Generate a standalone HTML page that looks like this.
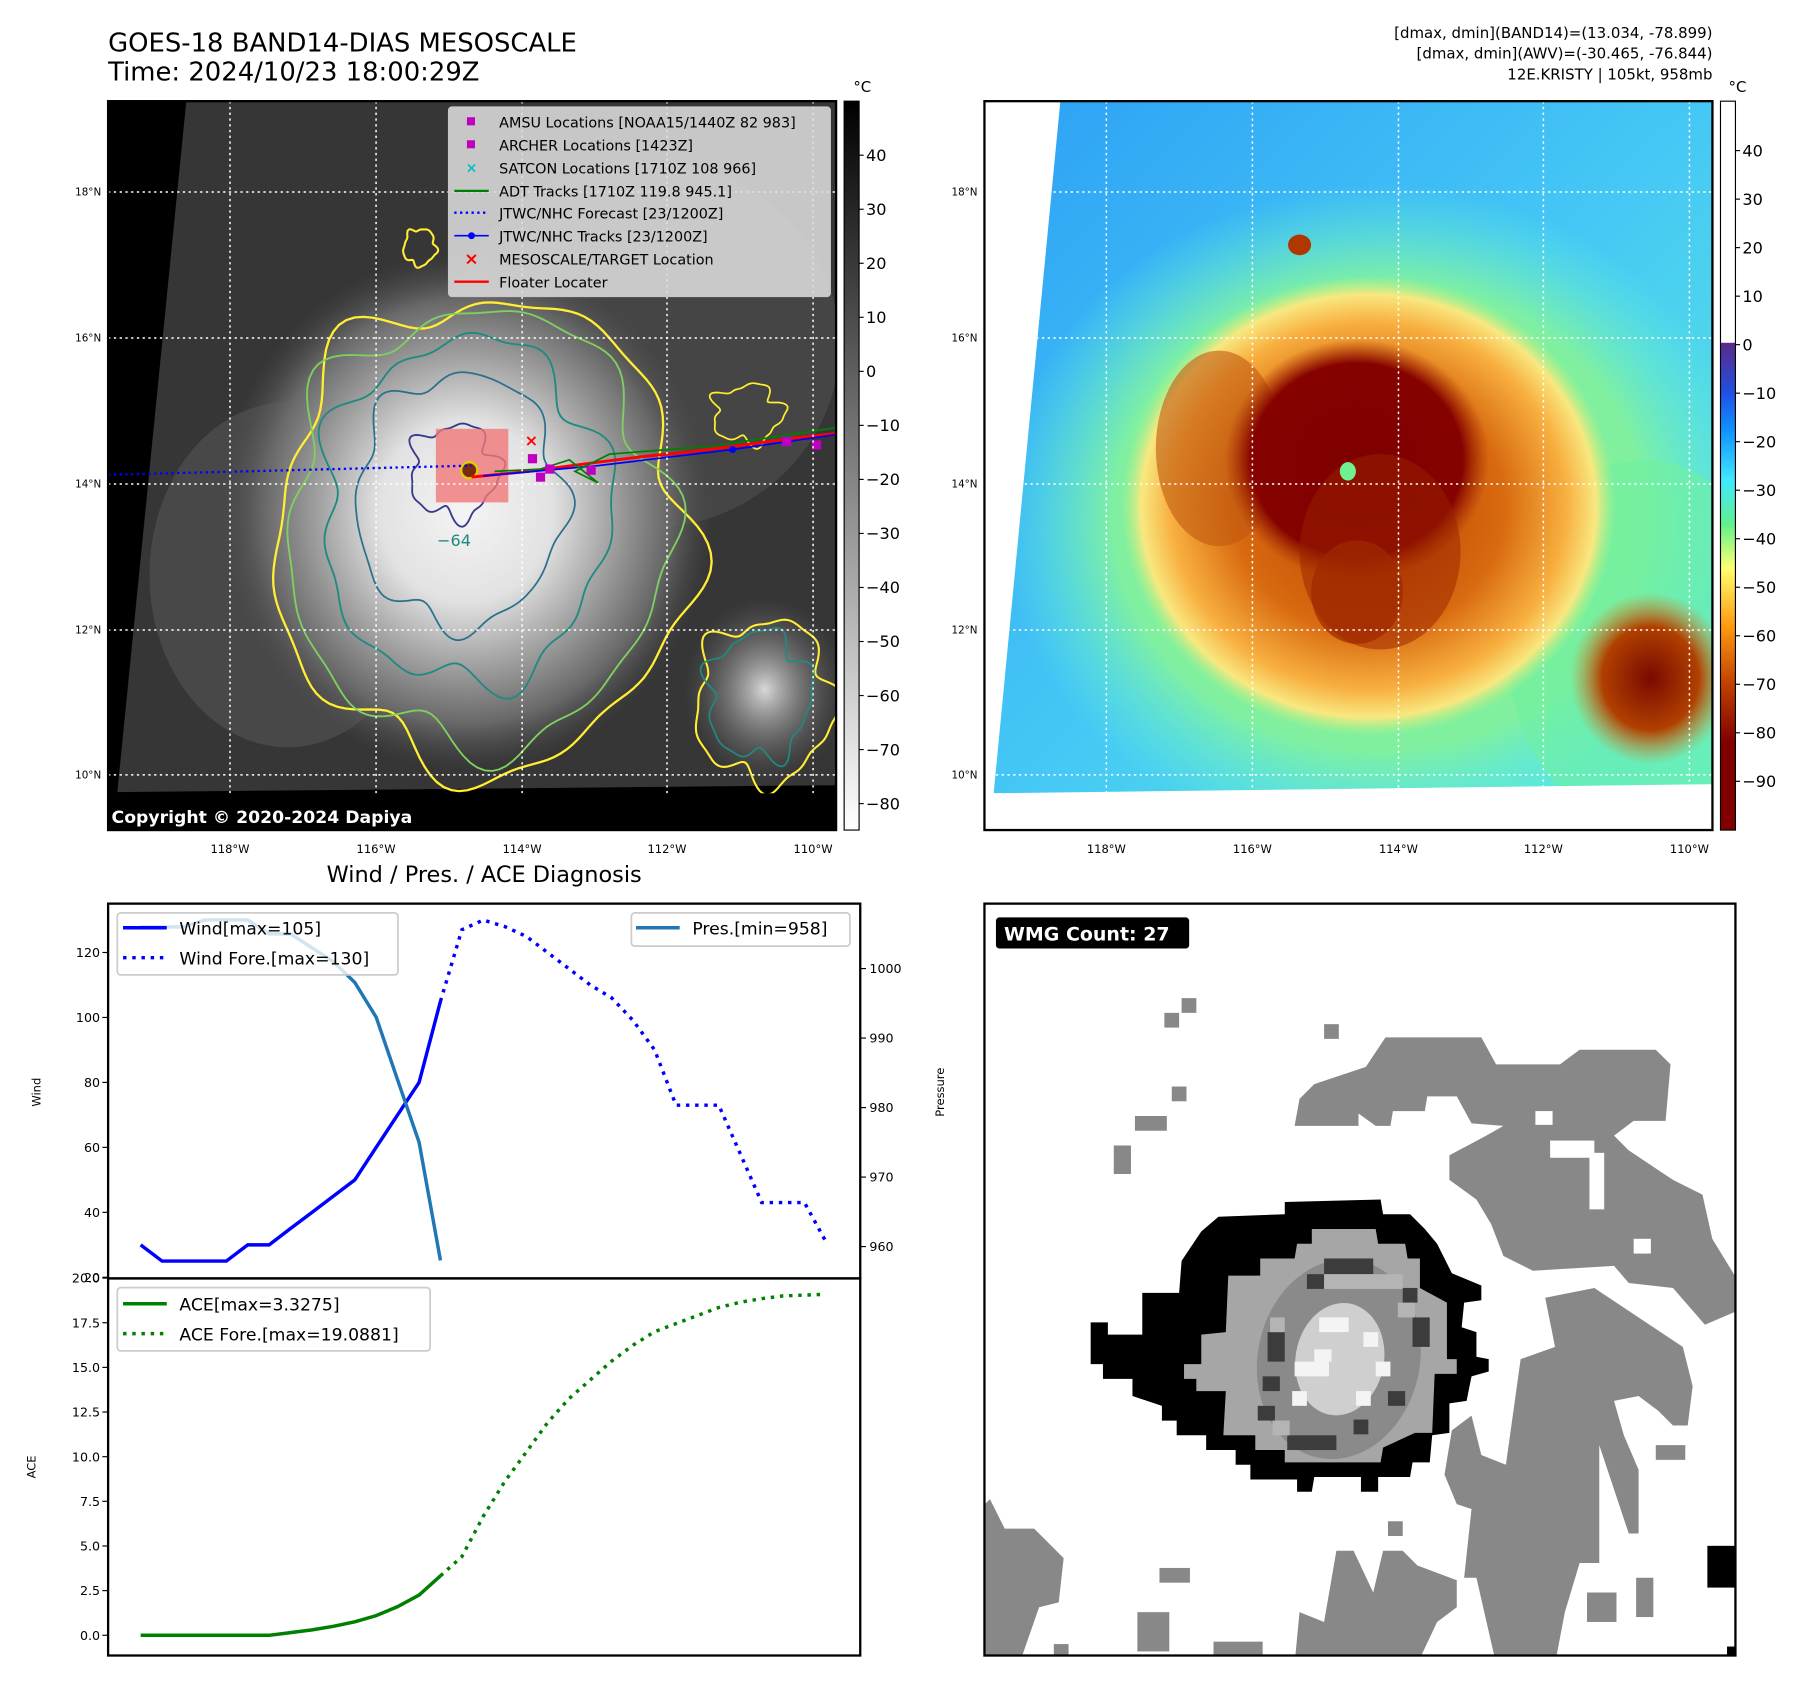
<!DOCTYPE html>
<html><head><meta charset="utf-8">
<style>
html,body{margin:0;padding:0;background:#fff;}
body{width:1801px;height:1690px;overflow:hidden;}
#wrap{width:1566px;height:1470px;transform:scale(1.15006,1.14966);transform-origin:0 0;position:relative;}
svg text{font-family:"DejaVu Sans","Liberation Sans",sans-serif;}
</style></head>
<body>
<div id="wrap">
<svg id="fig" width="1566" height="1470" viewBox="0 0 1566 1470" xmlns="http://www.w3.org/2000/svg">
<defs>
  <clipPath id="clipL"><rect x="94" y="88" width="633" height="634"/></clipPath>
  <clipPath id="clipR"><rect x="856" y="88" width="633" height="634"/></clipPath>
  <clipPath id="clipW"><rect x="856" y="786" width="653" height="654"/></clipPath>
  <radialGradient id="gStorm" cx="0.5" cy="0.5" r="0.5">
    <stop offset="0" stop-color="#f4f4f4"/><stop offset="0.35" stop-color="#e2e2e2"/>
    <stop offset="0.6" stop-color="#a0a0a0"/><stop offset="0.82" stop-color="#686868"/><stop offset="1" stop-color="#4a4a4a" stop-opacity="0"/>
  </radialGradient>
  <radialGradient id="gE" cx="0.5" cy="0.5" r="0.5">
    <stop offset="0" stop-color="#d8d8d8"/><stop offset="1" stop-color="#6a6a6a" stop-opacity="0"/>
  </radialGradient>
  <linearGradient id="cbGray" x1="0" y1="0" x2="0" y2="1">
    <stop offset="0" stop-color="#000"/><stop offset="1" stop-color="#fff"/>
  </linearGradient>
  <linearGradient id="cbColor" x1="0" y1="0" x2="0" y2="1">
    <stop offset="0" stop-color="#ffffff"/><stop offset="0.331" stop-color="#ffffff"/>
    <stop offset="0.332" stop-color="#5b2a8a"/><stop offset="0.40" stop-color="#2050e0"/>
    <stop offset="0.45" stop-color="#1090ff"/><stop offset="0.52" stop-color="#40e8ff"/>
    <stop offset="0.58" stop-color="#60f090"/><stop offset="0.64" stop-color="#ffff70"/>
    <stop offset="0.72" stop-color="#ff9a10"/><stop offset="0.80" stop-color="#c04000"/>
    <stop offset="0.88" stop-color="#800000"/><stop offset="1" stop-color="#800000"/>
  </linearGradient>
  <linearGradient id="gSky" x1="0" y1="0" x2="1" y2="1">
    <stop offset="0" stop-color="#2da0f5"/><stop offset="0.5" stop-color="#45c8f5"/><stop offset="1" stop-color="#60f0d8"/>
  </linearGradient>
  <radialGradient id="gOuter" cx="0.5" cy="0.5" r="0.5">
    <stop offset="0" stop-color="#90f080"/><stop offset="0.7" stop-color="#80f0a0"/><stop offset="1" stop-color="#60f0e0" stop-opacity="0"/>
  </radialGradient>
  <radialGradient id="gOrange" cx="0.5" cy="0.5" r="0.5">
    <stop offset="0" stop-color="#b84000"/><stop offset="0.55" stop-color="#d86a10"/>
    <stop offset="0.8" stop-color="#f8b040"/><stop offset="0.92" stop-color="#f8e880"/><stop offset="1" stop-color="#c0f080" stop-opacity="0"/>
  </radialGradient>
  <radialGradient id="gCore" cx="0.5" cy="0.5" r="0.5">
    <stop offset="0" stop-color="#800000"/><stop offset="0.8" stop-color="#850200"/><stop offset="1" stop-color="#a02800" stop-opacity="0"/>
  </radialGradient>
  <radialGradient id="gBR" cx="0.5" cy="0.5" r="0.5">
    <stop offset="0" stop-color="#7a0a00"/><stop offset="0.6" stop-color="#b04000"/><stop offset="1" stop-color="#e08020" stop-opacity="0"/>
  </radialGradient>
</defs>

<!-- ===== Top-left panel ===== -->
<text x="94" y="45" font-size="22.5">GOES-18 BAND14-DIAS MESOSCALE</text>
<text x="94" y="70" font-size="22.5">Time: 2024/10/23 18:00:29Z</text>
<g clip-path="url(#clipL)">
  <rect x="94" y="88" width="633" height="634" fill="#000"/>
  <polygon points="162,88 727,88 727,683 102,689" fill="#363636"/>
  <ellipse cx="560" cy="300" rx="170" ry="160" fill="#505050" opacity="0.6"/>
  <ellipse cx="250" cy="500" rx="120" ry="150" fill="#555" opacity="0.6"/>
  <ellipse cx="665" cy="600" rx="70" ry="80" fill="url(#gE)"/>
  <ellipse cx="405" cy="445" rx="215" ry="225" fill="url(#gStorm)"/>
  <g id="contours"></g>
  <rect x="379" y="373" width="63" height="64" fill="#f07878" opacity="0.8"/>
  <ellipse cx="408" cy="409" rx="7" ry="7" fill="#7a2a10" stroke="#ddd000" stroke-width="2"/>
  <line x1="94" y1="413" x2="410" y2="405" stroke="#0000ff" stroke-width="2" stroke-dasharray="2 3"/>
  <polyline points="410,415 460,410 520,402 560,397 600,393 640,388 690,381 727,377" fill="none" stroke="#ff0000" stroke-width="2.5"/>
  <polyline points="420,414 520,405 637,391 727,378" fill="none" stroke="#0000ff" stroke-width="1.5"/>
  <circle cx="637" cy="391" r="3" fill="#0000ff"/>
  <polyline points="430,410 470,408 495,400 520,420 500,410 530,395 620,388 640,385 727,372" fill="none" stroke="#008000" stroke-width="1.5"/>
  <g fill="#c000c0">
    <rect x="459" y="395" width="8" height="8"/><rect x="474" y="404" width="8" height="8"/>
    <rect x="466" y="411" width="8" height="8"/><rect x="510" y="405" width="8" height="8"/>
    <rect x="680" y="380" width="8" height="8"/><rect x="706" y="383" width="8" height="8"/>
  </g>
  <text x="462" y="388" font-size="14" fill="#ff0000" text-anchor="middle" font-weight="bold">×</text>
  <g id="gridL" stroke="#fff" stroke-width="1.3" stroke-dasharray="2 3"></g>
  <rect x="94" y="690" width="633" height="32" fill="#000"/>
  <text x="97" y="716" font-size="15" font-weight="bold" fill="#fff">Copyright © 2020-2024 Dapiya</text>
</g>
<rect x="94" y="88" width="633" height="634" fill="none" stroke="#000" stroke-width="2"/>
<!-- legend -->
<g>
  <rect x="390" y="93" width="332" height="165" rx="3" fill="#dcdcdc" fill-opacity="0.88" stroke="#c8c8c8"/>
  <g font-size="12.5" fill="#000">
    <rect x="406" y="102" width="7" height="7" fill="#c000c0"/><text x="434" y="111">AMSU Locations [NOAA15/1440Z 82 983]</text>
    <rect x="406" y="122" width="7" height="7" fill="#c000c0"/><text x="434" y="131">ARCHER Locations [1423Z]</text>
    <text x="410" y="150" text-anchor="middle" fill="#00c0c0" font-weight="bold" font-size="12">×</text><text x="434" y="151">SATCON Locations [1710Z 108 966]</text>
    <line x1="395" y1="166" x2="425" y2="166" stroke="#008000" stroke-width="2"/><text x="434" y="171">ADT Tracks [1710Z 119.8 945.1]</text>
    <line x1="395" y1="185" x2="425" y2="185" stroke="#0000ff" stroke-width="2" stroke-dasharray="2 3"/><text x="434" y="190">JTWC/NHC Forecast [23/1200Z]</text>
    <line x1="395" y1="205" x2="425" y2="205" stroke="#0000ff" stroke-width="1.5"/><circle cx="410" cy="205" r="3" fill="#0000ff"/><text x="434" y="210">JTWC/NHC Tracks [23/1200Z]</text>
    <text x="410" y="230" text-anchor="middle" fill="#ff0000" font-weight="bold" font-size="15">×</text><text x="434" y="230">MESOSCALE/TARGET Location</text>
    <line x1="395" y1="245" x2="425" y2="245" stroke="#ff0000" stroke-width="2"/><text x="434" y="250">Floater Locater</text>
  </g>
</g>
<!-- colorbar left -->
<rect x="734" y="88" width="13" height="634" fill="url(#cbGray)" stroke="#000" stroke-width="1"/>
<text x="742" y="80" font-size="13">°C</text>
<g id="cbLabelsL" font-size="14"></g>
<g id="axLabelsL" font-size="10"></g>

<!-- ===== Top-right panel ===== -->
<g font-size="13" text-anchor="end">
  <text x="1489" y="33">[dmax, dmin](BAND14)=(13.034, -78.899)</text>
  <text x="1489" y="51">[dmax, dmin](AWV)=(-30.465, -76.844)</text>
  <text x="1489" y="69">12E.KRISTY | 105kt, 958mb</text>
</g>
<g clip-path="url(#clipR)">
  <rect x="856" y="88" width="633" height="634" fill="#fff"/>
  <clipPath id="dataR"><polygon points="922,88 1489,88 1489,682 864,690"/></clipPath>
  <g clip-path="url(#dataR)">
    <rect x="856" y="88" width="633" height="634" fill="url(#gSky)"/>
    <ellipse cx="1200" cy="450" rx="330" ry="290" fill="url(#gOuter)"/>
    <ellipse cx="1430" cy="560" rx="120" ry="160" fill="#70f0a0" opacity="0.6"/>
    <ellipse cx="1190" cy="440" rx="215" ry="200" fill="url(#gOrange)"/>
    <ellipse cx="1060" cy="390" rx="55" ry="85" fill="#c05810" opacity="0.6"/>
    <ellipse cx="1180" cy="400" rx="115" ry="105" fill="url(#gCore)"/>
    <ellipse cx="1200" cy="480" rx="70" ry="85" fill="#9a2200" opacity="0.5"/>
    <ellipse cx="1180" cy="515" rx="40" ry="45" fill="#a02800" opacity="0.7"/>
    <ellipse cx="1435" cy="590" rx="70" ry="75" fill="url(#gBR)"/>
    <ellipse cx="1130" cy="213" rx="10" ry="9" fill="#b03800"/>
    <ellipse cx="1172" cy="410" rx="7" ry="8" fill="#70f090"/>
    <g id="gridR" stroke="#fff" stroke-width="1.3" stroke-dasharray="2 3"></g>
  </g>
</g>
<rect x="856" y="88" width="633" height="634" fill="none" stroke="#000" stroke-width="2"/>
<rect x="1496" y="88" width="13" height="634" fill="url(#cbColor)" stroke="#000" stroke-width="1"/>
<text x="1503" y="80" font-size="13">°C</text>
<g id="cbLabelsR" font-size="14"></g>
<g id="axLabelsR" font-size="10"></g>

<!-- ===== Bottom-left chart ===== -->
<text x="421" y="767" font-size="19.5" text-anchor="middle">Wind / Pres. / ACE Diagnosis</text>
<g id="chart"></g>
<rect x="94" y="786" width="654" height="326" fill="none" stroke="#000" stroke-width="2"/>
<rect x="94" y="1112" width="654" height="328" fill="none" stroke="#000" stroke-width="2"/>
<text transform="translate(35,950) rotate(-90)" font-size="10" text-anchor="middle">Wind</text>
<text transform="translate(821,950) rotate(-90)" font-size="10" text-anchor="middle">Pressure</text>
<text transform="translate(31,1276) rotate(-90)" font-size="10" text-anchor="middle">ACE</text>
<g>
  <rect x="102" y="794" width="244" height="54" rx="3" fill="#fff" fill-opacity="0.8" stroke="#ccc" stroke-width="1.5"/>
  <line x1="107" y1="807" x2="145" y2="807" stroke="#0000ff" stroke-width="3"/>
  <text x="156" y="813" font-size="15">Wind[max=105]</text>
  <line x1="107" y1="833" x2="145" y2="833" stroke="#0000ff" stroke-width="3" stroke-dasharray="3 5"/>
  <text x="156" y="839" font-size="15">Wind Fore.[max=130]</text>
</g>
<g>
  <rect x="549" y="794" width="190" height="29" rx="3" fill="#fff" fill-opacity="0.8" stroke="#ccc" stroke-width="1.5"/>
  <line x1="553" y1="807" x2="591" y2="807" stroke="#1f77b4" stroke-width="3"/>
  <text x="602" y="813" font-size="15">Pres.[min=958]</text>
</g>
<g>
  <rect x="102" y="1120" width="272" height="55" rx="3" fill="#fff" fill-opacity="0.8" stroke="#ccc" stroke-width="1.5"/>
  <line x1="107" y1="1134" x2="145" y2="1134" stroke="#008000" stroke-width="3"/>
  <text x="156" y="1140" font-size="15">ACE[max=3.3275]</text>
  <line x1="107" y1="1160" x2="145" y2="1160" stroke="#008000" stroke-width="3" stroke-dasharray="3 5"/>
  <text x="156" y="1166" font-size="15">ACE Fore.[max=19.0881]</text>
</g>

<!-- ===== Bottom-right WMG ===== -->
<g clip-path="url(#clipW)">
  <rect x="856" y="786" width="653" height="654" fill="#fff"/>
  <svg x="856.5" y="787" width="661" height="661" viewBox="0 0 1547 1547">
    <g fill="#888">
      <polygon points="630,450 640,395 670,365 775,330 815,270 1010,270 1040,325 1170,325 1210,295 1365,295 1395,325 1385,440 1320,440 1280,470 1310,500 1400,560 1460,590 1480,680 1535,770 1535,825 1465,855 1400,780 1310,770 1280,735 1115,745 1055,715 1030,650 1000,600 945,560 945,510 1020,470 1055,450 990,445 960,390 900,390 895,420 830,420 825,450 795,450 760,425 760,450"/>
      <polygon points="1140,800 1240,780 1360,860 1420,900 1440,980 1430,1060 1400,1060 1370,1030 1330,1000 1280,1010 1300,1080 1330,1150 1330,1280 1310,1280 1250,1100 1250,1340 1210,1340 1180,1440 1160,1545 1040,1545 1000,1370 975,1370 990,1230 960,1220 935,1160 950,1070 990,1040 1010,1120 1060,1140 1090,925 1160,900"/>
      <polygon points="630,1545 640,1440 690,1460 715,1315 750,1315 790,1400 810,1315 850,1315 880,1345 960,1375 960,1430 920,1460 880,1545"/>
      <polygon points="0,1220 10,1210 40,1270 100,1270 160,1330 150,1420 110,1430 70,1545 0,1545"/>
      <rect x="365" y="220" width="30" height="30"/><rect x="400" y="190" width="30" height="30"/>
      <rect x="690" y="243" width="30" height="30"/><rect x="380" y="370" width="30" height="30"/>
      <rect x="305" y="430" width="65" height="30"/><rect x="262" y="490" width="35" height="58"/>
      <rect x="355" y="1350" width="62" height="30"/><rect x="820" y="1255" width="30" height="30"/>
      <rect x="465" y="1500" width="100" height="30"/><rect x="140" y="1505" width="30" height="30"/>
      <rect x="310" y="1440" width="65" height="80"/><rect x="1365" y="1100" width="60" height="30"/>
      <rect x="1225" y="1400" width="60" height="60"/><rect x="1325" y="1370" width="35" height="80"/>
    </g>
    <g fill="#fff"><rect x="1120" y="420" width="35" height="28"/><rect x="1150" y="480" width="90" height="35"/><rect x="1230" y="505" width="30" height="115"/><rect x="1320" y="680" width="35" height="30"/></g>
    <g fill="#000"><rect x="1470" y="1305" width="77" height="85"/><rect x="1510" y="1510" width="37" height="37"/>
      <polygon points="215,850 250,850 250,875 320,875 320,790 395,790 400,725 440,665 475,635 610,630 610,605 805,600 810,630 865,630 895,660 920,690 950,750 1010,775 1010,805 975,810 970,860 1000,870 1000,920 1025,925 1025,950 990,960 980,1010 945,1015 945,1075 910,1080 905,1135 870,1135 865,1165 800,1165 800,1195 765,1195 765,1165 670,1165 665,1195 635,1195 635,1170 540,1170 540,1140 510,1140 510,1110 450,1110 450,1080 390,1080 390,1050 360,1050 360,1020 300,1000 300,965 240,965 240,935 215,935"/></g>
    <polygon fill="#a6a6a6" points="405,935 440,935 440,875 490,870 495,755 560,755 560,720 630,720 635,690 665,690 665,660 795,660 800,690 855,690 860,720 885,720 885,780 940,810 940,925 960,925 960,955 915,955 910,1075 875,1075 810,1105 805,1135 610,1135 610,1110 550,1110 550,1080 485,1080 490,990 430,990 430,965 405,965"/>
    <ellipse cx="720" cy="925" rx="165" ry="205" transform="rotate(12 720 925)" fill="#8a8a8a"/>
    <g fill="#3c3c3c"><rect x="690" y="720" width="100" height="32"/><rect x="655" y="752" width="35" height="30"/><rect x="575" y="870" width="35" height="60"/><rect x="565" y="960" width="35" height="30"/><rect x="555" y="1020" width="35" height="30"/><rect x="615" y="1080" width="100" height="30"/><rect x="750" y="1048" width="30" height="30"/><rect x="820" y="990" width="35" height="30"/><rect x="870" y="840" width="35" height="60"/><rect x="850" y="780" width="30" height="30"/></g>
    <g fill="#b4b4b4"><rect x="690" y="752" width="160" height="30"/><rect x="580" y="840" width="30" height="30"/><rect x="840" y="810" width="35" height="30"/><rect x="585" y="1050" width="35" height="30"/></g>
    <ellipse cx="722" cy="925" rx="90" ry="115" transform="rotate(10 722 925)" fill="#cfcfcf"/>
    <g fill="#f4f4f4"><rect x="680" y="840" width="60" height="30"/><rect x="770" y="870" width="30" height="30"/><rect x="630" y="930" width="70" height="30"/><rect x="795" y="930" width="30" height="30"/><rect x="625" y="990" width="30" height="30"/><rect x="755" y="990" width="30" height="30"/><rect x="670" y="905" width="35" height="25"/></g>
  </svg>
  <rect x="866" y="798" width="168" height="27" rx="3" fill="#000"/>
  <text x="873" y="818" font-size="16.5" font-weight="bold" fill="#fff">WMG Count: 27</text>
</g>
<rect x="856" y="786" width="653" height="654" fill="none" stroke="#000" stroke-width="2"/>
</svg>
</div>

<script>
// ---------- chart data ----------
const windObs = [30,25,25,25,25,30,30,35,40,45,50,60,70,80,105];
const windFc  = [105,127,130,128,125,120,115,110,106,99,90,73,73,73,58,43,43,43,31];
const presObs = [1006,1006,1006,1007,1007,1007,1005,1005,1003,1001,998,993,984,975,958];
const aceObs  = [0,0,0,0,0,0,0,0.15,0.3,0.5,0.75,1.1,1.6,2.25,3.33];
const aceFc   = [3.33,4.4,6.66,8.6,10.25,11.9,13.25,14.3,15.35,16.25,17.0,17.45,17.9,18.35,18.65,18.85,19.0,19.05,19.09];
const windTicks = [20,40,60,80,100,120];
const presTicks = [960,970,980,990,1000];
const aceTicks  = [0,2.5,5,7.5,10,12.5,15,17.5,20];
const latTicks  = ['18°N','16°N','14°N','12°N','10°N'];
const lonTicks  = ['118°W','116°W','114°W','112°W','110°W'];
const cbLeftTicks  = [40,30,20,10,0,-10,-20,-30,-40,-50,-60,-70,-80];
const cbRightTicks = [40,30,20,10,0,-10,-20,-30,-40,-50,-60,-70,-80,-90];

const NS = 'http://www.w3.org/2000/svg';
function mk(tag, attrs, parent){const e=document.createElementNS(NS,tag);for(const k in attrs)e.setAttribute(k,attrs[k]);parent.appendChild(e);return e;}

const xIdx = i => 122.3 + i*18.62;
const yWind = v => 1054.5 - (v-40)*2.825;
const yPres = p => 1084.3 - (p-960)*6.045;
const yAce = a => 1422.4 - a*15.535;
const fmtMinus = v => String(v).replace('-', '\u2212');

const chart = document.getElementById('chart');
function line(vals, off, yf, color, dashed, name){
  const pts = vals.map((v,i)=>xIdx(i+off).toFixed(1)+','+yf(v).toFixed(1)).join(' ');
  const p = mk('polyline',{points:pts,fill:'none',stroke:color,'stroke-width':3},chart);
  if(dashed) p.setAttribute('stroke-dasharray','3 5');
  
  
}
line(windObs,0,yWind,'#0000ff',false,'wind-line');
line(windFc,14,yWind,'#0000ff',true,'wind-forecast-line');
line(presObs,0,yPres,'#1f77b4',false,'pressure-line');
line(aceObs,0,yAce,'#008000',false,'ace-line');
line(aceFc,14,yAce,'#008000',true,'ace-forecast-line');

windTicks.forEach(v=>{
  const y=yWind(v);
  mk('line',{x1:89,y1:y,x2:94,y2:y,stroke:'#000','stroke-width':1},chart);
  const t=mk('text',{x:87,y:y+4,'font-size':11,'text-anchor':'end'},chart); t.textContent=v;
  
  
});
presTicks.forEach(v=>{
  const y=yPres(v);
  mk('line',{x1:748,y1:y,x2:753,y2:y,stroke:'#000','stroke-width':1},chart);
  const t=mk('text',{x:756,y:y+4,'font-size':11},chart); t.textContent=v;
  
  
});
aceTicks.forEach(v=>{
  const y=yAce(v);
  mk('line',{x1:89,y1:y,x2:94,y2:y,stroke:'#000','stroke-width':1},chart);
  const t=mk('text',{x:87,y:y+4,'font-size':11,'text-anchor':'end'},chart); t.textContent=v.toFixed(1);
  
  
});

// ---------- map axes ----------
const latY = [167,294,421,548,674];
const lonXL = [200,327,454,580,707];
const lonXR = [962,1089,1216,1342,1469];
function grid(gid, xs, x0, x1){
  const g=document.getElementById(gid);
  xs.forEach(x=>mk('line',{x1:x,y1:88,x2:x,y2:722},g));
  latY.forEach(y=>mk('line',{x1:x0,y1:y,x2:x1,y2:y},g));
}
grid('gridL', lonXL, 94, 727);
grid('gridR', lonXR, 856, 1489);
function axLabels(gid, xs, left){
  const g=document.getElementById(gid);
  latTicks.forEach((s,i)=>{const t=mk('text',{x:left-6,y:latY[i]+3,'text-anchor':'end','font-size':9},g);t.textContent=s;
    
    });
  lonTicks.forEach((s,i)=>{const t=mk('text',{x:xs[i],y:742,'text-anchor':'middle'},g);t.textContent=s;
    
    });
}
axLabels('axLabelsL', lonXL, 94);
axLabels('axLabelsR', lonXR, 856);

const cbL=document.getElementById('cbLabelsL');
cbLeftTicks.forEach((v,i)=>{const y=135+i*47.0;
  mk('line',{x1:747,y1:y,x2:751,y2:y,stroke:'#000'},cbL);
  const t=mk('text',{x:753,y:y+5},cbL);t.textContent=fmtMinus(v);
  
  });
const cbR=document.getElementById('cbLabelsR');
cbRightTicks.forEach((v,i)=>{const y=131+i*42.2;
  mk('line',{x1:1509,y1:y,x2:1513,y2:y,stroke:'#000'},cbR);
  const t=mk('text',{x:1515,y:y+5},cbR);t.textContent=fmtMinus(v);
  
  });

// ---------- IR contours (decorative shapes) ----------
const cg=document.getElementById('contours');
function blob(cx,cy,rx,ry,amps,color,w,ph){
  let d='';
  for(let k=0;k<=180;k++){
    const t=k/180*Math.PI*2;
    let r=1;
    amps.forEach((a,j)=>{r+=a*Math.sin((j*3+5)*t+ph*(j+1));});
    const x=cx+rx*r*Math.cos(t), y=cy+ry*r*Math.sin(t);
    d+=(k?'L':'M')+x.toFixed(1)+','+y.toFixed(1);
  }
  const p=mk('path',{d:d+'Z',fill:'none',stroke:color,'stroke-width':w},cg);
  
  
}
blob(420,465,180,205,[0.06,0.04,0.03],'#ffee33',2,0.3);
blob(415,460,165,190,[0.05,0.05,0.03],'#7fd060',1.6,1.1);
blob(405,445,125,150,[0.06,0.04,0.04],'#1f8a80',1.6,2.0);
blob(400,435,90,110,[0.05,0.06,0.02],'#2a6f8c',1.5,0.7);
blob(395,410,38,40,[0.12,0.08,0.05],'#3a3a8c',1.6,1.4);
blob(665,610,60,70,[0.1,0.06,0.04],'#ffee33',1.8,0.9);
blob(660,605,45,55,[0.1,0.08,0.04],'#1f8a80',1.5,2.4);
blob(365,215,14,16,[0.1,0.05,0.03],'#ffee33',1.8,0.2);
blob(650,360,30,25,[0.15,0.08,0.05],'#ffee33',1.5,1.7);
const lbl=mk('text',{x:380,y:475,'font-size':14,fill:'#1f8a80'},cg);lbl.textContent='\u221264';


</script>
</body></html>
